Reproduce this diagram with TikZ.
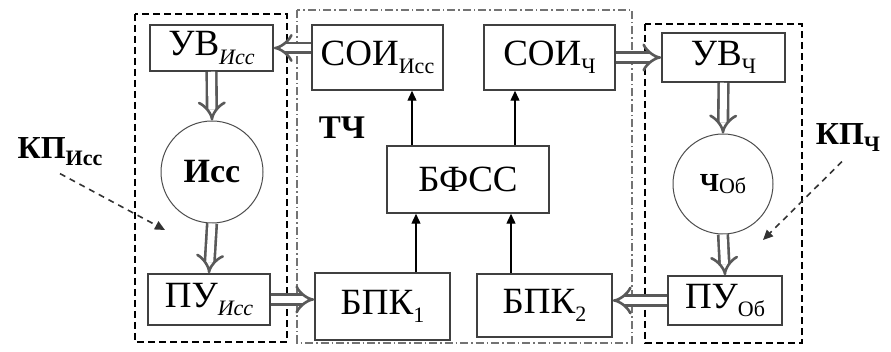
\documentclass[tikz,border=0pt]{standalone}
\usepackage{fontspec}
\setmainfont{Liberation Serif}
\usetikzlibrary{arrows.meta}

\newcommand{\bigtxt}{\fontsize{37}{39}\selectfont}
\newcommand{\lowidx}[1]{\raisebox{-0.22em}{\fontsize{22}{22}\selectfont #1}}

\tikzset{
  block/.style={draw=black!75, line width=1.5pt, rectangle, inner sep=0pt, font=\bigtxt},
  circ/.style={draw=black!70, line width=1pt, circle, inner sep=0pt},
  hollow/.style={draw=black!65, line width=2.6pt, double=white, double distance=7pt, -{Implies[length=6pt]}},
  sig/.style={draw=black, line width=1.4pt, -{Triangle[length=10pt,width=9pt]}},
  frame/.style={draw=black, line width=1.8pt, dash pattern=on 7pt off 4pt},
  tchframe/.style={draw=black!55, line width=1.1pt, dash pattern=on 8pt off 3pt on 1.5pt off 3pt},
  hint/.style={draw=black!80, line width=1.6pt, dash pattern=on 6pt off 5pt, -{Triangle[length=10pt,width=9pt]}}
}

\begin{document}
\begin{tikzpicture}[x=1pt,y=-1pt]
            \useasboundingbox (0,0) rectangle (891,352);

            % Drawing frames
            \draw [frame] (135,14) rectangle (287,342);%
            \draw [frame] (645,24) rectangle (802,343);%
            \draw [tchframe] (297,10) rectangle (632,343);%

            % Blocks of the left part
            \node [block, minimum width=123pt, minimum height=46pt] (uvi) at (211.5,48) {УВ\lowidx{\itshape Исс}};%
            \node [circ, minimum size=102pt] (isc) at (212,172) {\fontsize{34}{36}\selectfont\bfseries Исс};%
            \node [block, minimum width=122pt, minimum height=51pt] (pui) at (209,299.5) {ПУ\lowidx{\itshape Исс}};%

            % Blocks of TCh
            \node [block, minimum width=131pt, minimum height=65pt] (soii) at (377.5,57.5) {СОИ\lowidx{Исс}};%
            \node [block, minimum width=131pt, minimum height=65pt] (soich) at (549.5,57.5) {СОИ\lowidx{Ч}};%
            \node [block, minimum width=162pt, minimum height=67pt] (bfss) at (468,179.5) {БФСС};%
            \node [block, minimum width=135pt, minimum height=67pt] (bpk1) at (382.5,306.5) {БПК\lowidx{1}};%
            \node [block, minimum width=135pt, minimum height=63pt] (bpk2) at (544.5,305.5) {БПК\lowidx{2}};%
            \node [font=\fontsize{33}{35}\selectfont\bfseries] (tch) at (342,128) {ТЧ};%

            % Blocks of the right part
            \node [block, minimum width=123pt, minimum height=49pt] (uvch) at (723.5,57.5) {УВ\lowidx{Ч}};%
            \node [circ, minimum size=100pt] (chob) at (723,184) {{\fontsize{26}{28}\selectfont\bfseries Ч}\lowidx{Об}};%
            \node [block, minimum width=114pt, minimum height=49pt] (puob) at (725,300.5) {ПУ\lowidx{Об}};%

            % Labels KP
            \node [font=\fontsize{32}{34}\selectfont\bfseries] (kpi) at (60,152) {КП\lowidx{Исс}};%
            \node [font=\fontsize{32}{34}\selectfont\bfseries] (kpch) at (848,138) {КП\lowidx{Ч}};%
            \coordinate (kpiend) at (165,230);%
            \coordinate (kpchend) at (763,240);%

            % Hollow arrows
            \draw [hollow] (soii.west |- uvi.east) -- (uvi.east);%
            \draw [hollow] (soich.east) -- (uvch.west);%
            \draw [hollow] (pui.east) -- (bpk1.west |- pui.east);%
            \draw [hollow] (puob.west) -- (bpk2.east |- puob.west);%
            \draw [hollow] (uvi.south) -- (isc.north);%
            \draw [hollow] (isc.south) -- (pui.north);%
            \draw [hollow] (uvch.south) -- (chob.north);%
            \draw [hollow] (chob.south) -- (puob.north);%

            % Signal arrows
            \draw [sig] (bfss.north -| 412,0) -- (soii.south -| 412,0);%
            \draw [sig] (bfss.north -| 515,0) -- (soich.south -| 515,0);%
            \draw [sig] (bpk1.north -| 416,0) -- (bfss.south -| 416,0);%
            \draw [sig] (bpk2.north -| 511,0) -- (bfss.south -| 511,0);%

            % Dashed hints
            \draw [hint] (kpi.south) ++(0,4) -- (kpiend);%
            \draw [hint] (kpch.south) ++(-6,6) -- (kpchend);%
\end{tikzpicture}
\end{document}
